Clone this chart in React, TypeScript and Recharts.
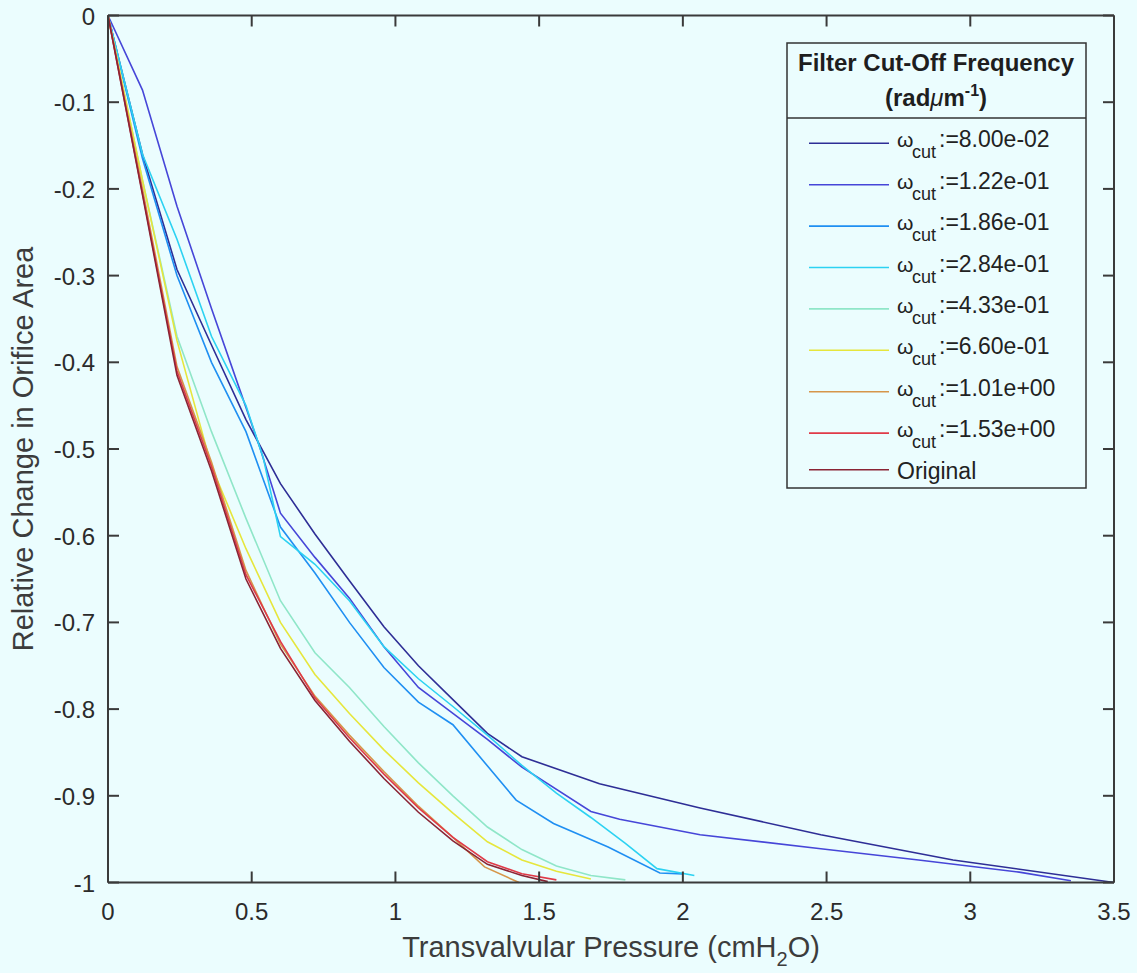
import { LineChart, Line, XAxis, YAxis, Legend } from 'recharts'

// Relative orifice area vs transvalvular pressure, one curve per filter cut-off
const FONT = '"Liberation Sans", Arial, Helvetica, sans-serif'
const BG = '#ebfdfe'
const AXIS = '#3a3a3a'
const TEXT = '#2b2b2b'

const xTicks = [0, 0.5, 1, 1.5, 2, 2.5, 3, 3.5]
const yTicks = [0, -0.1, -0.2, -0.3, -0.4, -0.5, -0.6, -0.7, -0.8, -0.9, -1]

const cutLabels = ['8.00e-02', '1.22e-01', '1.86e-01', '2.84e-01', '4.33e-01', '6.60e-01', '1.01e+00', '1.53e+00']
const colors = ['#2e2e96', '#4646d8', '#1f8ff2', '#2cd2f2', '#8fe6c8', '#e6e63c', '#d6964a', '#e03a48', '#8a2434']

// [pressure, relative area change]
const w080: [number, number][] = [
  [0, 0], [0.12, -0.16], [0.24, -0.293], [0.36, -0.38], [0.48, -0.466], [0.6, -0.54], [0.72, -0.598],
  [0.84, -0.652], [0.96, -0.705], [1.08, -0.75], [1.2, -0.789], [1.32, -0.828], [1.44, -0.855],
  [1.71, -0.886], [2.06, -0.914], [2.48, -0.945], [2.94, -0.974], [3.5, -1],
]
const w122: [number, number][] = [
  [0, 0], [0.12, -0.086], [0.24, -0.22], [0.36, -0.338], [0.48, -0.452], [0.53, -0.5], [0.6, -0.574],
  [0.72, -0.625], [0.84, -0.672], [0.96, -0.728], [1.08, -0.775], [1.2, -0.805], [1.32, -0.835],
  [1.44, -0.867], [1.68, -0.918], [1.78, -0.927], [2.06, -0.945], [2.48, -0.961], [2.82, -0.974],
  [3.17, -0.988], [3.35, -0.998],
]
const w186: [number, number][] = [
  [0, 0], [0.12, -0.165], [0.24, -0.3], [0.36, -0.4], [0.48, -0.48], [0.6, -0.59], [0.72, -0.643],
  [0.84, -0.7], [0.96, -0.752], [1.08, -0.792], [1.2, -0.818], [1.42, -0.905], [1.55, -0.932],
  [1.74, -0.959], [1.92, -0.989], [2.0, -0.99],
]
const w284: [number, number][] = [
  [0, 0], [0.12, -0.16], [0.24, -0.258], [0.36, -0.37], [0.48, -0.45], [0.54, -0.51], [0.6, -0.601],
  [0.72, -0.633], [0.84, -0.675], [0.96, -0.728], [1.08, -0.765], [1.2, -0.797], [1.32, -0.83],
  [1.44, -0.865], [1.56, -0.897], [1.68, -0.925], [1.8, -0.955], [1.91, -0.984], [2.04, -0.992],
]
const w433: [number, number][] = [
  [0, 0], [0.12, -0.19], [0.24, -0.37], [0.36, -0.48], [0.48, -0.58], [0.6, -0.675], [0.72, -0.735],
  [0.84, -0.775], [0.96, -0.82], [1.08, -0.862], [1.2, -0.9], [1.32, -0.936], [1.44, -0.962],
  [1.56, -0.981], [1.68, -0.992], [1.8, -0.997],
]
const w660: [number, number][] = [
  [0, 0], [0.12, -0.19], [0.24, -0.375], [0.36, -0.52], [0.48, -0.615], [0.6, -0.7], [0.72, -0.76],
  [0.84, -0.805], [0.96, -0.847], [1.08, -0.885], [1.2, -0.92], [1.32, -0.953], [1.44, -0.974],
  [1.56, -0.987], [1.68, -0.996],
]
const w101: [number, number][] = [
  [0, 0], [0.12, -0.2], [0.24, -0.405], [0.36, -0.515], [0.48, -0.64], [0.6, -0.725], [0.72, -0.785],
  [0.84, -0.83], [0.96, -0.872], [1.08, -0.912], [1.2, -0.948], [1.31, -0.982], [1.43, -1],
]
const w153: [number, number][] = [
  [0, 0], [0.12, -0.205], [0.24, -0.41], [0.36, -0.52], [0.48, -0.645], [0.6, -0.722], [0.72, -0.787],
  [0.84, -0.833], [0.96, -0.875], [1.08, -0.914], [1.2, -0.948], [1.32, -0.976], [1.44, -0.99], [1.56, -0.997],
]
const original: [number, number][] = [
  [0, 0], [0.12, -0.207], [0.24, -0.415], [0.36, -0.525], [0.48, -0.65], [0.6, -0.73], [0.72, -0.79],
  [0.84, -0.837], [0.96, -0.88], [1.08, -0.919], [1.2, -0.952], [1.32, -0.979], [1.44, -0.992], [1.53, -0.999],
]

const series = [w080, w122, w186, w284, w433, w660, w101, w153, original].map((pts, i) => ({
  name: i < cutLabels.length ? `ω_cut:=${cutLabels[i]}` : 'Original',
  label: i < cutLabels.length ? cutLabels[i] : null,
  color: colors[i],
  data: pts.map(([x, y]) => ({ x, y })),
}))

const tickText = { fontFamily: FONT, fontSize: 24, fill: TEXT }

function BottomTick({ x, y, payload }: any) {
  return (
    <g>
      <line x1={x} x2={x} y1={y} y2={y - 11} stroke={AXIS} strokeWidth={2} />
      <text x={x} y={y + 37} textAnchor="middle" {...tickText}>{String(payload.value)}</text>
    </g>
  )
}
function TopTick({ x, y }: any) {
  return <line x1={x} x2={x} y1={y} y2={y + 11} stroke={AXIS} strokeWidth={2} />
}
function LeftTick({ x, y, payload }: any) {
  return (
    <g>
      <line x1={x} x2={x + 11} y1={y} y2={y} stroke={AXIS} strokeWidth={2} />
      <text x={x - 13} y={y + 9} textAnchor="end" {...tickText}>{String(payload.value)}</text>
    </g>
  )
}
function RightTick({ x, y }: any) {
  return <line x1={x} x2={x - 11} y1={y} y2={y} stroke={AXIS} strokeWidth={2} />
}

function XTitle({ viewBox }: any) {
  const cx = viewBox.x + viewBox.width / 2
  return (
    <text x={cx} y={viewBox.y + 74} textAnchor="middle" fontFamily={FONT} fontSize={29} fill="#3c3c3c">
      <tspan>Transvalvular Pressure (cmH</tspan>
      <tspan fontSize={20} dy={9}>2</tspan>
      <tspan dy={-9}>O)</tspan>
    </text>
  )
}
function YTitle({ viewBox }: any) {
  const cy = viewBox.y + viewBox.height / 2
  return (
    <text x={33} y={cy} transform={`rotate(-90, 33, ${cy})`} textAnchor="middle" fontFamily={FONT} fontSize={29} fill="#3c3c3c">
      Relative Change in Orifice Area
    </text>
  )
}

function LegendBox() {
  const rowY = (i: number) => (i < 8 ? 101.3 + i * 41.4 : 427.7)
  return (
    <svg width={302} height={448} style={{ display: 'block' }}>
      <rect x={1} y={1} width={299} height={445} fill={BG} stroke="#333" strokeWidth={1.5} />
      <line x1={1} x2={300} y1={76} y2={76} stroke="#333" strokeWidth={1.5} />
      <text x={150} y={29} textAnchor="middle" fontFamily={FONT} fontSize={24} fontWeight="bold" fill="#1e1e1e">
        Filter Cut-Off Frequency
      </text>
      <text x={150} y={64} textAnchor="middle" fontFamily={FONT} fontSize={24} fontWeight="bold" fill="#1e1e1e">
        <tspan>(rad</tspan>
        <tspan fontWeight="normal" fontStyle="italic">μ</tspan>
        <tspan>m</tspan>
        <tspan fontSize={16} dy={-10}>-1</tspan>
        <tspan dy={10}>)</tspan>
      </text>
      {series.map((s, i) => {
        const y = rowY(i)
        return (
          <g key={s.name}>
            <line x1={23} x2={103} y1={y} y2={y} stroke={s.color} strokeWidth={1.6} />
            {s.label ? (
              <text fontFamily={FONT} fill="#222">
                <tspan x={111} y={y + 4} fontSize={21}>ω</tspan>
                <tspan x={126} y={y + 15} fontSize={18}>cut</tspan>
                <tspan x={153} y={y + 4} fontSize={23}>:={s.label}</tspan>
              </text>
            ) : (
              <text x={111} y={y + 9} fontFamily={FONT} fontSize={23} fill="#222">Original</text>
            )}
          </g>
        )
      })}
    </svg>
  )
}

export default function App() {
  const last = series.length - 1
  return (
    <div style={{ position: 'absolute', left: 0, top: 0, width: 1137, height: 973, background: BG }}>
      <LineChart width={1137} height={973} margin={{ top: 14.5, right: 22, bottom: 0, left: 0 }}>
        <XAxis
          dataKey="x"
          type="number"
          domain={[0, 3.5]}
          ticks={xTicks}
          interval={0}
          height={90.5}
          tickSize={0}
          tickMargin={0}
          tickLine={false}
          axisLine={{ stroke: AXIS, strokeWidth: 2 }}
          tick={<BottomTick />}
          label={(p: any) => <XTitle {...p} />}
        />
        {/* zero-size axes are skipped by recharts, so the box sides get 1px */}
        <XAxis
          xAxisId="top"
          orientation="top"
          dataKey="x"
          type="number"
          domain={[0, 3.5]}
          ticks={xTicks}
          interval={0}
          height={1}
          tickSize={0}
          tickMargin={0}
          tickLine={false}
          axisLine={{ stroke: AXIS, strokeWidth: 2 }}
          tick={<TopTick />}
        />
        <YAxis
          type="number"
          domain={[-1, 0]}
          ticks={yTicks}
          interval={0}
          width={108}
          tickSize={0}
          tickMargin={0}
          tickLine={false}
          axisLine={{ stroke: AXIS, strokeWidth: 2 }}
          tick={<LeftTick />}
          label={(p: any) => <YTitle {...p} />}
        />
        <YAxis
          yAxisId="right"
          orientation="right"
          type="number"
          domain={[-1, 0]}
          ticks={yTicks}
          interval={0}
          width={1}
          tickSize={0}
          tickMargin={0}
          tickLine={false}
          axisLine={{ stroke: AXIS, strokeWidth: 2 }}
          tick={<RightTick />}
        />
        {series.map((s, i) => (
          <Line
            key={s.name}
            name={s.name}
            data={s.data}
            dataKey="y"
            xAxisId={i === last ? 'top' : 0}
            yAxisId={i === last ? 'right' : 0}
            type="linear"
            stroke={s.color}
            strokeWidth={1.6}
            dot={false}
            activeDot={false}
            isAnimationActive={false}
          />
        ))}
        <Legend
          layout="vertical"
          align="center"
          verticalAlign="middle"
          content={() => <LegendBox />}
          wrapperStyle={{ position: 'absolute', left: 786, top: 42, width: 302, height: 448 }}
        />
      </LineChart>
    </div>
  )
}
